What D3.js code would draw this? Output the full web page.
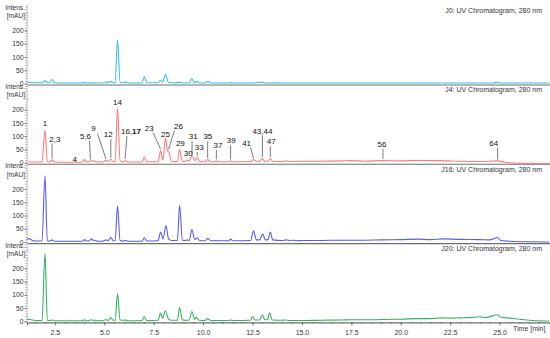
<!DOCTYPE html>
<html>
<head>
<meta charset="utf-8">
<script src="https://cdn.jsdelivr.net/npm/d3@7"></script>
<style>
  body { margin: 0; background: #fff; }
  svg text { font-family: Arial, "Liberation Sans", sans-serif; }
</style>
</head>
<body>
<div id="chart"></div>
<script>
var width = 550;
var height = 338;

// sample names shown at the right of each trace
const sampleNames = ["J0", "J4", "J16", "J20"];
const traceColors = ["#33c3e8", "#ff7b7b", "#5a5af5", "#33b35f"];   // J0, J4, J16, J20

// tick labels
const timeTicks = [2.5, 5.0, 7.5, 10.0, 12.5, 15.0, 17.5, 20.0, 22.5, 25.0];
const intensTicks = [0, 50, 100, 150, 200];

// traces: [time (min), intensity (mAU)]
const traceJ0 = [
  [1.1, 5], [1.3, 4], [1.5, 3], [1.85, 3], [2.0, 10], [2.15, 3], [2.25, 3], [2.36, 15], [2.5, 3],
  [3.0, 2], [3.9, 2], [4.0, 4], [4.1, 2], [4.35, 3], [4.5, 2], [5.0, 3], [5.08, 6], [5.2, 3],
  [5.33, 8], [5.45, 3], [5.55, 4], [5.67, 165], [5.8, 5], [6.0, 3], [6.09, 6], [6.2, 2],
  [6.9, 2], [7.03, 25], [7.15, 3], [7.7, 3], [7.84, 12], [7.95, 5], [8.09, 35], [8.25, 4],
  [8.5, 3], [8.81, 5], [8.95, 2], [9.3, 3], [9.43, 18], [9.55, 4], [9.7, 8], [9.8, 2],
  [10.1, 2], [10.24, 8], [10.4, 2], [11.3, 2], [11.39, 3], [11.5, 2], [12.5, 2], [13.0, 5],
  [13.15, 2], [13.5, 2], [13.7, 3], [13.9, 2], [15, 2], [16, 2], [17.5, 2], [20, 2], [22, 2],
  [24.7, 2], [24.85, 5], [25.0, 2], [27.5, 2]
];

const traceJ4 = [
  [1.1, 4], [1.5, 3], [1.85, 3], [2.0, 122], [2.12, 4], [2.25, 3], [2.36, 11], [2.48, 3],
  [3.0, 2], [3.4, 2], [3.5, 4], [3.6, 2], [3.9, 3], [4.0, 12], [4.1, 4], [4.25, 4], [4.35, 9],
  [4.45, 5], [4.52, 7], [4.65, 3], [4.95, 3], [5.08, 10], [5.2, 4], [5.33, 13], [5.45, 4],
  [5.55, 6], [5.67, 205], [5.8, 6], [5.95, 4], [6.05, 8], [6.2, 3], [6.9, 3], [7.03, 22],
  [7.15, 4], [7.72, 4], [7.85, 46], [7.97, 10], [8.09, 94], [8.2, 45], [8.27, 40], [8.4, 5],
  [8.7, 5], [8.81, 50], [8.95, 6], [9.1, 5], [9.2, 10], [9.3, 6], [9.44, 27], [9.57, 8],
  [9.7, 20], [9.82, 5], [10.1, 4], [10.23, 12], [10.38, 4], [10.6, 4], [10.67, 7], [10.75, 4],
  [11.3, 4], [11.39, 7], [11.5, 4], [12.4, 5], [12.55, 12], [12.7, 6], [12.85, 6], [13.0, 16],
  [13.12, 6], [13.28, 6], [13.4, 15], [13.52, 6], [14.0, 5], [14.2, 7], [14.4, 5], [15, 6],
  [16, 6], [17, 7], [17.5, 8], [18.2, 6], [19.1, 8], [20, 7], [20.8, 9], [21.5, 8], [22, 8],
  [23, 6], [24, 5], [24.9, 7], [25.3, 2], [26, -2], [27.5, -3]
];

const traceJ16 = [
  [1.1, 10], [1.2, 13], [1.35, 7], [1.5, 4], [1.85, 4], [2.0, 250], [2.12, 5], [2.25, 4],
  [2.36, 8], [2.48, 3], [3.0, 3], [3.9, 3], [4.0, 9], [4.1, 4], [4.25, 5], [4.35, 12],
  [4.45, 6], [4.52, 7], [4.65, 3], [4.95, 4], [5.08, 8], [5.2, 5], [5.33, 18], [5.45, 5],
  [5.55, 6], [5.67, 136], [5.8, 6], [5.95, 4], [6.05, 6], [6.2, 3], [6.9, 3], [7.03, 16],
  [7.15, 4], [7.72, 5], [7.85, 38], [7.97, 12], [8.12, 62], [8.25, 12], [8.4, 6], [8.7, 6],
  [8.81, 138], [8.95, 8], [9.1, 6], [9.2, 8], [9.3, 6], [9.43, 47], [9.57, 10], [9.7, 15],
  [9.82, 6], [10.1, 5], [10.23, 14], [10.38, 5], [10.6, 5], [10.67, 7], [10.75, 5], [11.3, 5],
  [11.39, 11], [11.5, 5], [12.4, 6], [12.55, 42], [12.7, 8], [12.85, 8], [13.02, 30],
  [13.15, 8], [13.28, 9], [13.4, 38], [13.52, 8], [14.0, 6], [14.2, 8], [14.4, 6], [14.6, 7],
  [14.7, 5], [15, 6], [16, 6], [17, 7], [18, 7], [19, 8], [20, 9], [20.9, 11], [21.5, 9],
  [22.1, 12], [23, 10], [24, 9], [24.5, 8], [24.9, 17], [25.05, 6], [25.5, 3], [26, 1], [27.5, 0]
];

const traceJ20 = [
  [1.1, 8], [1.3, 6], [1.5, 3], [1.85, 3], [2.0, 257], [2.12, 4], [2.25, 3], [2.36, 5],
  [2.48, 2], [3.0, 2], [3.9, 2], [4.0, 6], [4.1, 2], [4.25, 3], [4.35, 6], [4.45, 3],
  [4.52, 5], [4.65, 2], [4.95, 3], [5.08, 6], [5.2, 3], [5.33, 14], [5.45, 4], [5.55, 5],
  [5.67, 104], [5.8, 5], [5.95, 4], [6.05, 5], [6.2, 2], [6.9, 3], [7.03, 17], [7.15, 3],
  [7.72, 4], [7.84, 31], [7.95, 12], [8.09, 40], [8.25, 8], [8.4, 4], [8.7, 4], [8.81, 52],
  [8.95, 6], [9.1, 4], [9.3, 5], [9.43, 37], [9.57, 8], [9.65, 15], [9.8, 4], [10.1, 3],
  [10.23, 10], [10.38, 3], [11.3, 3], [11.39, 5], [11.5, 3], [12.4, 4], [12.5, 18], [12.62, 5],
  [12.85, 5], [13.0, 24], [13.12, 6], [13.25, 6], [13.36, 32], [13.5, 5], [14.0, 4],
  [14.17, 5], [14.35, 3], [15, 3], [16, 4], [17, 5], [17.5, 6], [18.5, 6], [19.6, 8], [20, 8],
  [20.8, 10], [21.5, 10], [22.1, 13], [22.5, 12], [23, 13], [23.5, 14], [24.0, 17], [24.3, 14],
  [24.9, 25], [25.05, 15], [25.5, 12], [26, 8], [26.5, 4], [27.5, 1]
];

const traces = [traceJ0, traceJ4, traceJ16, traceJ20];

// peak annotations of J4: [label, peak time, peak mAU, label time, label mAU]
const peakLabels = [
  ["1", 2.0, 122, 2.0, 137],
  ["2,3", 2.36, 11, 2.5, 80],
  ["4", 3.5, 4, 3.5, 3],
  ["5,6", 4.3, 7, 4.05, 90],
  ["9", 5.08, 10, 4.45, 118],
  ["12", 5.33, 13, 5.2, 97],
  ["14", 5.67, 205, 5.67, 216],
  ["16,17", 6.05, 8, 6.35, 109],
  ["23", 7.85, 46, 7.27, 121],
  ["25", 8.09, 94, 8.1, 99],
  ["26", 8.25, 45, 8.75, 129],
  ["29", 8.81, 50, 8.85, 64],
  ["30", 9.2, 10, 9.25, 27],
  ["31", 9.44, 27, 9.5, 89],
  ["33", 9.7, 20, 9.8, 48],
  ["35", 10.23, 12, 10.24, 89],
  ["37", 10.67, 7, 10.75, 55],
  ["39", 11.39, 7, 11.42, 74],
  ["41", 12.55, 12, 12.2, 65],
  ["43,44", 13.0, 16, 13.0, 110],
  ["47", 13.4, 15, 13.45, 70],
  ["56", 19.1, 8, 19.05, 61],
  ["64", 24.9, 7, 24.7, 64]
];

var svg = d3.select("#chart").append("svg")
    .attr("width", width)
    .attr("height", height);

var axisColor = "#6e6e6e";

// time scale shared by all four traces
var x = d3.scaleLinear()
    .domain([1.09, 27.55])
    .range([27, 550]);

var panelZero = 83.5;      // y of 0 mAU in the first panel
var panelStep = 79.27;     // distance between panels
var panelSpan = 79.6;      // pixels for 300 mAU

var line = d3.line().curve(d3.curveMonotoneX);

traces.forEach(function (trace, i) {
    var zero = panelZero + i * panelStep;
    var y = d3.scaleLinear().domain([0, 300]).range([zero, zero - panelSpan]);
    var g = svg.append("g");

    // bottom line of the panel (with time ticks on the last one)
    var xAxis = d3.axisBottom(x).tickSizeOuter(0);
    if (i == traces.length - 1) {
        xAxis.tickValues(timeTicks).tickSize(3).tickFormat(d3.format(".1f"));
        // minor time ticks
        g.append("g")
            .attr("transform", "translate(0," + (zero + 1) + ")")
            .call(d3.axisBottom(x).tickValues(d3.range(1.5, 27.5, 0.5)).tickSize(1.5).tickFormat(""))
            .call(function (a) { a.select(".domain").remove(); })
            .selectAll("line").attr("stroke", axisColor);
    } else {
        xAxis.tickValues([]);
    }
    var xg = g.append("g")
        .attr("transform", "translate(0," + (zero + 1) + ")")
        .call(xAxis);
    xg.select(".domain").attr("stroke", axisColor).attr("stroke-width", 1.2);
    xg.selectAll("line").attr("stroke", axisColor);
    xg.selectAll("text").attr("font-size", 7).attr("fill", "#333").attr("dy", "0.9em")
        .style("font-family", "Arial, 'Liberation Sans', sans-serif");

    // intensity axis: minor ticks give the dotted look
    g.append("g")
        .attr("transform", "translate(27,0)")
        .call(d3.axisLeft(y).tickValues(d3.range(0, 300, 10)).tickSize(1.5).tickFormat("").tickSizeOuter(0))
        .call(function (a) {
            a.select(".domain").attr("stroke", "#bbb").attr("stroke-width", 0.6);
            a.selectAll("line").attr("stroke", axisColor).attr("stroke-width", 0.7);
        });

    var yg = g.append("g")
        .attr("transform", "translate(27,0)")
        .call(d3.axisLeft(y).tickValues(intensTicks).tickSize(2.5).tickPadding(1).tickSizeOuter(0));
    yg.select(".domain").remove();
    yg.selectAll("line").attr("stroke", axisColor);
    yg.selectAll("text").attr("font-size", 6.8).attr("fill", "#333").attr("dy", "0.3em")
        .style("font-family", "Arial, 'Liberation Sans', sans-serif");

    g.append("text")
        .attr("x", 25).attr("y", zero - 73.6)
        .attr("text-anchor", "end").attr("font-size", 6.6).attr("fill", "#333")
        .text("Intens.");
    g.append("text")
        .attr("x", 25).attr("y", zero - 65.5)
        .attr("text-anchor", "end").attr("font-size", 6.6).attr("fill", "#333")
        .text("[mAU]");

    // panel title
    g.append("text")
        .attr("x", 542).attr("y", zero - 70.5)
        .attr("text-anchor", "end").attr("font-size", 7).attr("fill", "#333")
        .text(sampleNames[i] + ": UV Chromatogram, 280 nm");

    // the trace itself
    g.append("path")
        .attr("d", line(trace.map(function (d) { return [x(d[0]), y(d[1])]; })))
        .attr("fill", "none")
        .attr("stroke", traceColors[i])
        .attr("stroke-width", 1.1);

    // peak numbers only on J4
    if (i == 1) {
        peakLabels.forEach(function (p) {
            var px = x(p[1]), py = y(p[2]);
            var lx = x(p[3]), ly = y(p[4]);
            var isBold = p[0] == "16,17";
            var t = g.append("text")
                .attr("x", lx).attr("y", ly)
                .attr("text-anchor", "middle").attr("font-size", 8).attr("fill", "#111");
            if (isBold) {
                t.append("tspan").text("16,");
                t.append("tspan").attr("font-weight", "bold").text("17");
            } else {
                t.text(p[0]);
            }
            // leader line from label to peak
            if (py - (ly + 2) > 3) {
                var dx = px - lx;
                var sx = lx + Math.sign(dx) * Math.min(Math.abs(dx), 4);
                g.append("line")
                    .attr("x1", sx).attr("y1", ly + 2)
                    .attr("x2", px).attr("y2", py - 1.5)
                    .attr("stroke", "#222").attr("stroke-width", 0.6);
            }
        });
    }
});

// unit of the time axis
svg.append("text")
    .attr("x", 513).attr("y", 331)
    .attr("font-size", 7).attr("fill", "#333")
    .text("Time [min]");
</script>
</body>
</html>
